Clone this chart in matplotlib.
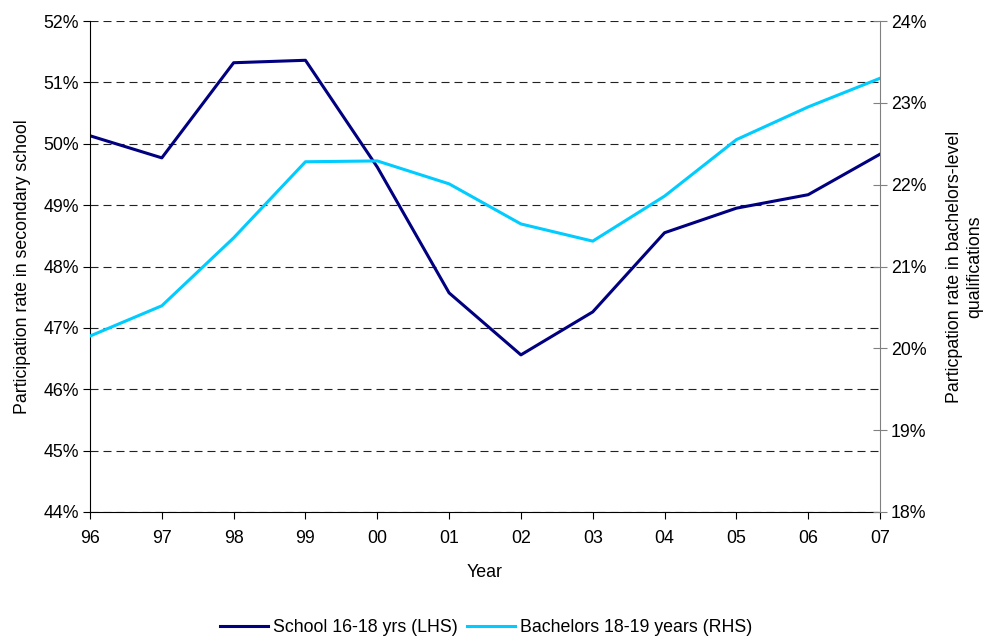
import matplotlib
matplotlib.use("Agg")
import matplotlib.pyplot as plt
from matplotlib.ticker import FuncFormatter

plt.rcParams['font.family'] = ['Liberation Sans', 'DejaVu Sans']
plt.rcParams['font.size'] = 12.8

years = ["96", "97", "98", "99", "00", "01", "02", "03", "04", "05", "06", "07"]
school = [50.13, 49.77, 51.32, 51.36, 49.62, 47.57, 46.56, 47.26, 48.55, 48.95, 49.17, 49.83]
bachelors = [20.15, 20.52, 21.35, 22.28, 22.29, 22.01, 21.52, 21.31, 21.86, 22.55, 22.95, 23.30]

navy = "#000080"
cyan = "#00CCFF"

fig = plt.figure(figsize=(9.85, 6.39), dpi=100)
ax = fig.add_axes([90 / 985, 1 - 512 / 639, 790 / 985, 491 / 639])
ax2 = ax.twinx()

x = list(range(len(years)))
l1, = ax.plot(x, school, color=navy, linewidth=2.2, label="School 16-18 yrs (LHS)")
l2, = ax2.plot(x, bachelors, color=cyan, linewidth=2.2, label="Bachelors 18-19 years (RHS)")

ax.set_xlim(0, len(years) - 1)
ax.set_xticks(x)
ax.set_xticklabels(years)
ax.set_ylim(44, 52)
ax.set_yticks(range(44, 53))
ax2.set_ylim(18, 24)
ax2.set_yticks(range(18, 25))
pct = FuncFormatter(lambda v, p: f"{v:.0f}%")
ax.yaxis.set_major_formatter(pct)
ax2.yaxis.set_major_formatter(pct)

ax.grid(axis='y', color='#222222', linestyle=(0, (7.2, 4.5)), linewidth=0.8)
ax.set_axisbelow(True)

for a in (ax, ax2):
    a.spines['top'].set_visible(False)
ax.spines['right'].set_visible(False)
ax2.spines['left'].set_visible(False)
ax2.spines['bottom'].set_visible(False)
ax2.spines['right'].set_color('#808080')
ax.spines['left'].set_linewidth(0.8)
ax.spines['bottom'].set_linewidth(0.8)

ax.tick_params(axis='y', direction='out', length=5, width=0.8, pad=3)
ax.tick_params(axis='x', direction='out', length=5, width=0.8, pad=8)
ax2.tick_params(axis='y', direction='inout', length=10, width=0.8, color='#808080', pad=3)

ax.set_xlabel("Year", labelpad=12)
ax.set_ylabel("Participation rate in secondary school", labelpad=9)
ax2.set_ylabel("Particpation rate in bachelors-level\nqualifications", labelpad=14)

fig.legend(handles=[l1, l2], loc='center', bbox_to_anchor=(486 / 985, 1 - 628 / 639),
           ncol=2, frameon=False, handlelength=2.7, handletextpad=0.3, columnspacing=0.5)

fig.savefig("out.png", dpi=100)
